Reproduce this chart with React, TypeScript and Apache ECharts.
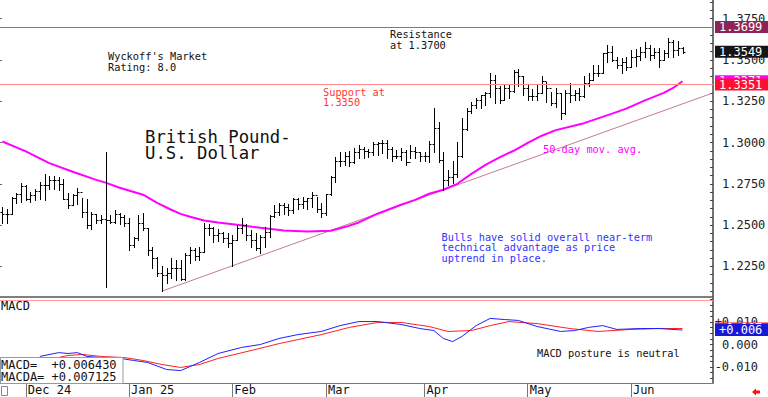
import React, { useEffect, useRef } from "react";
import * as echarts from "echarts";

// ---------- DATA ----------
const SLOT_COUNT = 152; // trading-day slots on the time axis (incl. empty right margin)
const SKIP_DATES = ["2025-01-01"];
const monthLabels: Record<string, string> = {
  "2024-12": "Dec 24",
  "2025-01": "Jan 25",
  "2025-02": "Feb",
  "2025-03": "Mar",
  "2025-04": "Apr",
  "2025-05": "May",
  "2025-06": "Jun",
};

const opens = [
  1.2580, 1.2565, 1.2570, 1.2665, 1.2690, 1.2735, 1.2660, 1.2680, 1.2705, 1.2740,
  1.2745, 1.2770, 1.2775, 1.2750, 1.2660, 1.2620, 1.2680, 1.2700, 1.2580, 1.2500,
  1.2570, 1.2530, 1.2535, 1.2530, 1.2520, 1.2570, 1.2550, 1.2510, 1.2380, 1.2420,
  1.2515, 1.2480, 1.2350, 1.2300, 1.2210, 1.2200, 1.2210, 1.2240, 1.2240, 1.2175,
  1.2320, 1.2350, 1.2310, 1.2340, 1.2480, 1.2480, 1.2440, 1.2450, 1.2420, 1.2390,
  1.2410, 1.2480, 1.2500, 1.2440, 1.2410, 1.2360, 1.2430, 1.2460, 1.2555, 1.2580,
  1.2620, 1.2610, 1.2590, 1.2660, 1.2630, 1.2645, 1.2665, 1.2680, 1.2600, 1.2575,
  1.2690, 1.2790, 1.2890, 1.2885, 1.2920, 1.2880, 1.2945, 1.2960, 1.2950, 1.2940,
  1.2990, 1.2995, 1.2995, 1.2960, 1.2920, 1.2920, 1.2945, 1.2880, 1.2950, 1.2940,
  1.2920, 1.2920, 1.2990, 1.3090, 1.2895, 1.2770, 1.2790, 1.2810, 1.2920, 1.3080,
  1.3190, 1.3230, 1.3255, 1.3285, 1.3300, 1.3380, 1.3330, 1.3260, 1.3330, 1.3310,
  1.3425, 1.3400, 1.3330, 1.3280, 1.3280, 1.3300, 1.3370, 1.3330, 1.3240, 1.3300,
  1.3180, 1.3300, 1.3290, 1.3300, 1.3280, 1.3360, 1.3380, 1.3420, 1.3420, 1.3540,
  1.3550, 1.3500, 1.3470, 1.3490, 1.3460, 1.3520, 1.3525, 1.3550, 1.3570, 1.3530,
  1.3550, 1.3500, 1.3540, 1.3610, 1.3560, 1.3570,
];
const highs = [
  1.2610, 1.2600, 1.2670, 1.2695, 1.2755, 1.2745, 1.2700, 1.2720, 1.2760, 1.2810,
  1.2800, 1.2795, 1.2790, 1.2780, 1.2695, 1.2690, 1.2725, 1.2665, 1.2655, 1.2580,
  1.2565, 1.2560, 1.2945, 1.2560, 1.2590, 1.2575, 1.2560, 1.2545, 1.2430, 1.2560,
  1.2575, 1.2485, 1.2370, 1.2305, 1.2250, 1.2240, 1.2300, 1.2290, 1.2290, 1.2330,
  1.2370, 1.2360, 1.2370, 1.2515, 1.2505, 1.2490, 1.2475, 1.2460, 1.2450, 1.2440,
  1.2500, 1.2545, 1.2505, 1.2470, 1.2450, 1.2440, 1.2490, 1.2560, 1.2620, 1.2635,
  1.2635, 1.2625, 1.2665, 1.2665, 1.2670, 1.2665, 1.2700, 1.2670, 1.2635, 1.2690,
  1.2795, 1.2915, 1.2945, 1.2945, 1.2950, 1.2968, 1.2985, 1.2970, 1.2960, 1.3000,
  1.3005, 1.3015, 1.3015, 1.2975, 1.2955, 1.2965, 1.2955, 1.2985, 1.2970, 1.2945,
  1.2945, 1.3010, 1.3207, 1.3125, 1.2940, 1.2835, 1.2885, 1.3000, 1.3150, 1.3210,
  1.3245, 1.3270, 1.3290, 1.3305, 1.3420, 1.3410, 1.3340, 1.3350, 1.3350, 1.3440,
  1.3445, 1.3400, 1.3350, 1.3325, 1.3350, 1.3400, 1.3365, 1.3305, 1.3330, 1.3300,
  1.3320, 1.3360, 1.3320, 1.3330, 1.3400, 1.3420, 1.3470, 1.3470, 1.3540, 1.3590,
  1.3585, 1.3520, 1.3510, 1.3520, 1.3560, 1.3565, 1.3580, 1.3610, 1.3590, 1.3570,
  1.3570, 1.3560, 1.3630, 1.3620, 1.3615, 1.3580,
];
const lows = [
  1.2515, 1.2515, 1.2565, 1.2635, 1.2640, 1.2650, 1.2640, 1.2650, 1.2655, 1.2650,
  1.2720, 1.2720, 1.2710, 1.2655, 1.2605, 1.2620, 1.2625, 1.2550, 1.2485, 1.2475,
  1.2515, 1.2515, 1.2125, 1.2510, 1.2510, 1.2505, 1.2495, 1.2350, 1.2370, 1.2410,
  1.2470, 1.2320, 1.2240, 1.2190, 1.2100, 1.2150, 1.2180, 1.2170, 1.2170, 1.2170,
  1.2270, 1.2290, 1.2290, 1.2340, 1.2440, 1.2400, 1.2405, 1.2395, 1.2370, 1.2250,
  1.2410, 1.2455, 1.2410, 1.2370, 1.2350, 1.2330, 1.2370, 1.2430, 1.2550, 1.2560,
  1.2570, 1.2560, 1.2575, 1.2595, 1.2605, 1.2595, 1.2610, 1.2580, 1.2550, 1.2560,
  1.2685, 1.2760, 1.2855, 1.2865, 1.2860, 1.2875, 1.2905, 1.2905, 1.2910, 1.2925,
  1.2925, 1.2935, 1.2905, 1.2885, 1.2905, 1.2895, 1.2865, 1.2905, 1.2905, 1.2885,
  1.2885, 1.2880, 1.2945, 1.2880, 1.2710, 1.2745, 1.2755, 1.2790, 1.2915, 1.3075,
  1.3180, 1.3210, 1.3210, 1.3230, 1.3275, 1.3240, 1.3240, 1.3260, 1.3270, 1.3305,
  1.3340, 1.3290, 1.3260, 1.3260, 1.3258, 1.3300, 1.3245, 1.3230, 1.3215, 1.3140,
  1.3175, 1.3245, 1.3260, 1.3260, 1.3275, 1.3340, 1.3380, 1.3400, 1.3420, 1.3485,
  1.3495, 1.3450, 1.3420, 1.3440, 1.3455, 1.3465, 1.3500, 1.3520, 1.3500, 1.3510,
  1.3460, 1.3500, 1.3520, 1.3520, 1.3530, 1.3540,
];
const closes = [
  1.2565, 1.2570, 1.2665, 1.2690, 1.2735, 1.2660, 1.2680, 1.2705, 1.2740, 1.2745,
  1.2770, 1.2775, 1.2750, 1.2660, 1.2620, 1.2680, 1.2700, 1.2580, 1.2500, 1.2570,
  1.2530, 1.2535, 1.2530, 1.2520, 1.2570, 1.2550, 1.2510, 1.2380, 1.2420, 1.2515,
  1.2480, 1.2350, 1.2300, 1.2210, 1.2200, 1.2210, 1.2240, 1.2240, 1.2175, 1.2320,
  1.2350, 1.2310, 1.2340, 1.2480, 1.2480, 1.2440, 1.2450, 1.2420, 1.2390, 1.2410,
  1.2480, 1.2500, 1.2440, 1.2410, 1.2360, 1.2430, 1.2460, 1.2555, 1.2580, 1.2620,
  1.2610, 1.2590, 1.2660, 1.2630, 1.2645, 1.2665, 1.2680, 1.2600, 1.2575, 1.2690,
  1.2790, 1.2890, 1.2885, 1.2920, 1.2880, 1.2945, 1.2960, 1.2950, 1.2940, 1.2990,
  1.2995, 1.2995, 1.2960, 1.2920, 1.2920, 1.2945, 1.2880, 1.2950, 1.2940, 1.2920,
  1.2920, 1.2990, 1.3090, 1.2895, 1.2770, 1.2790, 1.2810, 1.2920, 1.3080, 1.3190,
  1.3230, 1.3255, 1.3285, 1.3300, 1.3380, 1.3330, 1.3260, 1.3330, 1.3310, 1.3425,
  1.3400, 1.3330, 1.3280, 1.3280, 1.3300, 1.3370, 1.3330, 1.3240, 1.3300, 1.3180,
  1.3300, 1.3290, 1.3300, 1.3280, 1.3360, 1.3380, 1.3420, 1.3420, 1.3540, 1.3550,
  1.3500, 1.3470, 1.3490, 1.3460, 1.3520, 1.3525, 1.3550, 1.3570, 1.3530, 1.3550,
  1.3500, 1.3540, 1.3610, 1.3560, 1.3570, 1.3549,
];

// 50-day moving average, read at [bar index, value]
const ma50Points: [number, number][] = [
  [0, 1.3006], [5, 1.2946], [10, 1.2875], [15, 1.2823], [20, 1.2774], [22, 1.2757],
  [25, 1.2726], [30, 1.2684], [33, 1.2635], [36, 1.2593], [38, 1.2568], [40, 1.2551],
  [43, 1.2528], [46, 1.2516], [50, 1.2502], [55, 1.2484], [60, 1.2468], [65, 1.2462],
  [70, 1.2466], [73, 1.2488], [76, 1.2516], [80, 1.2569], [85, 1.2623], [88, 1.2653],
  [91, 1.2690], [94, 1.2714], [97, 1.2750], [100, 1.2810], [103, 1.2865], [106, 1.2910],
  [109, 1.2950], [112, 1.2998], [115, 1.3041], [118, 1.3075], [124, 1.3117], [130, 1.3175],
  [133, 1.3205], [137, 1.3255], [141, 1.3300], [143, 1.3330], [145, 1.3371],
];
const trendPoints: [number, number][] = [[34, 1.2100], [151, 1.3295]];
const resistanceLevel = 1.3699;
const supportLevel = 1.3351;

const macdPoints: [number, number][] = [
  [8, -0.0053], [12, -0.0036], [14, -0.0040], [16, -0.0036], [18, -0.0053], [21, -0.0058],
  [24, -0.0058], [28, -0.0071], [31, -0.0080], [35, -0.0111], [38, -0.0116], [42, -0.0080],
  [46, -0.0040], [51, -0.0013], [55, 0.0000], [59, 0.0027], [63, 0.0044], [68, 0.0058],
  [72, 0.0084], [76, 0.0102], [80, 0.0102], [85, 0.0089], [89, 0.0071], [92, 0.0062],
  [94, 0.0027], [96, 0.0013], [98, 0.0036], [101, 0.0084], [104, 0.0116], [107, 0.0111],
  [110, 0.0107], [114, 0.0080], [119, 0.0058], [122, 0.0062], [125, 0.0076], [128, 0.0084],
  [131, 0.0067], [136, 0.0071], [140, 0.0071], [145, 0.00643],
];
const macdaPoints: [number, number][] = [
  [11, -0.0062], [14, -0.0049], [17, -0.0044], [21, -0.0053], [26, -0.0058], [30, -0.0071],
  [34, -0.0089], [38, -0.0102], [42, -0.0089], [46, -0.0062], [53, -0.0027], [59, 0.0004],
  [68, 0.0044], [74, 0.0076], [80, 0.0098], [85, 0.0098], [91, 0.0080], [95, 0.0058],
  [100, 0.0062], [104, 0.0084], [108, 0.0102], [114, 0.0093], [121, 0.0071], [127, 0.0058],
  [134, 0.0067], [140, 0.0071], [145, 0.007125],
];
const macdNow = 0.00643;
const macdaNow = 0.007125;
const macdRefLevel = 0.0198;

const priceLabels = [1.225, 1.25, 1.275, 1.3, 1.325, 1.35, 1.375];
const macdLabels = [-0.01, 0, 0.01];

// ---------- helpers ----------
function buildCategories(): string[] {
  const out: string[] = [];
  const d = new Date(Date.UTC(2024, 10, 25));
  while (out.length < SLOT_COUNT) {
    const wd = d.getUTCDay();
    const s = d.toISOString().slice(0, 10);
    if (wd !== 0 && wd !== 6 && !SKIP_DATES.includes(s)) out.push(s);
    d.setUTCDate(d.getUTCDate() + 1);
  }
  return out;
}
const categories = buildCategories();
const isMonthStart = (i: number) =>
  i > 0 && categories[i].slice(0, 7) !== categories[i - 1].slice(0, 7);

const priceTicks: number[] = [];
for (let k = 242; k <= 277; k++) priceTicks.push(+(k * 0.005).toFixed(4));
const macdTicks: number[] = [];
for (let k = -6; k <= 8; k++) macdTicks.push(+(k * 0.0025).toFixed(4));

const MONO = '"DejaVu Sans Mono", monospace';
const PRICE_MAX = 1.3 + 142.5 / 1652;
const PRICE_MIN = 1.3 - 154.5 / 1652;
const MACD_MAX = (344.5 - 298) / 2250;
const MACD_MIN = (344.5 - 383) / 2250;

const ohlcData = closes.map((c, i) => [i, opens[i], c, lows[i], highs[i]]);

const sign = (v: number, d: number) => (v > 0 ? "+" : v < 0 ? "-" : "") + Math.abs(v).toFixed(d);

const HIDDEN_LINE = { color: "rgba(0,0,0,0)", width: 0 };

function boxLabel(text: string, bg: string, color = "#fff") {
  return {
    show: true,
    position: "end",
    distance: 2,
    formatter: text,
    color,
    backgroundColor: bg,
    padding: [1, 6, 0, 4],
    fontFamily: MONO,
    fontSize: 12,
    lineHeight: 11,
  };
}

function buildOption(): any {
  const txt = (x: number, y: number, text: string, fill: string, size: number, lh: number) => ({
    type: "text",
    x,
    y,
    z: 50,
    style: { text, fill, fontFamily: MONO, fontSize: size, lineHeight: lh, verticalAlign: "top", align: "left" },
  });
  return {
    animation: false,
    backgroundColor: "#ffffff",
    grid: [
      { left: 0, right: 55, top: 0, height: 297, outerBoundsMode: "none" },
      { left: 0, right: 55, top: 298, height: 85, outerBoundsMode: "none" },
    ],
    xAxis: [
      {
        type: "category",
        gridIndex: 0,
        data: categories,
        boundaryGap: true,
        axisLine: { show: true, onZero: false, lineStyle: { color: "#555", width: 1.5 } },
        axisTick: { show: false },
        axisLabel: { show: false },
        splitLine: { show: false },
      },
      {
        type: "category",
        gridIndex: 1,
        data: categories,
        boundaryGap: true,
        axisLine: { show: true, onZero: false, lineStyle: { color: "#777", width: 1 } },
        axisTick: {
          show: true,
          alignWithLabel: true,
          interval: (i: number) => isMonthStart(i),
          length: 14,
          lineStyle: { color: "#777" },
        },
        axisLabel: {
          interval: (i: number) => isMonthStart(i),
          formatter: (v: string) => monthLabels[v.slice(0, 7)] || "",
          align: "left",
          verticalAlign: "top",
          margin: 1,
          padding: [0, 0, 0, 2],
          fontFamily: MONO,
          fontSize: 12,
          lineHeight: 12,
          color: "#111",
        },
        splitLine: { show: false },
      },
    ],
    yAxis: [
      {
        type: "value",
        gridIndex: 0,
        position: "right",
        min: PRICE_MIN,
        max: PRICE_MAX,
        axisLine: { show: true, lineStyle: { color: "#444", width: 1.5 } },
        axisTick: { show: true, inside: true, length: 3, customValues: priceTicks, lineStyle: { color: "#444" } },
        axisLabel: {
          customValues: priceLabels,
          formatter: (v: number) => v.toFixed(4),
          margin: 9,
          fontFamily: MONO,
          fontSize: 12,
          color: "#222",
        },
        splitLine: { show: false },
      },
      {
        type: "value",
        gridIndex: 1,
        position: "right",
        min: MACD_MIN,
        max: MACD_MAX,
        axisLine: { show: true, lineStyle: { color: "#444", width: 1.5 } },
        axisTick: { show: true, inside: true, length: 3, customValues: macdTicks, lineStyle: { color: "#444" } },
        axisLabel: {
          customValues: macdLabels,
          formatter: (v: number) => sign(v, 3),
          align: "right",
          margin: 45,
          fontFamily: MONO,
          fontSize: 12,
          color: "#222",
        },
        splitLine: { show: false },
      },
      {
        type: "value",
        gridIndex: 0,
        position: "left",
        min: PRICE_MIN,
        max: PRICE_MAX,
        axisLine: { show: false },
        axisTick: { show: true, inside: true, length: 2, customValues: priceLabels, lineStyle: { color: "#666" } },
        axisLabel: { show: false },
        splitLine: { show: false },
      },
    ],
    series: [
      {
        name: "trend",
        type: "line",
        xAxisIndex: 0,
        yAxisIndex: 0,
        data: trendPoints,
        symbol: "none",
        z: 2,
        lineStyle: { color: "#c47c92", width: 1 },
        silent: true,
      },
      {
        name: "ma50",
        type: "line",
        xAxisIndex: 0,
        yAxisIndex: 0,
        data: ma50Points,
        symbol: "none",
        z: 3,
        lineStyle: { color: "#ff00ff", width: 2 },
        silent: true,
        markLine: {
          silent: true,
          symbol: "none",
          precision: 6,
          z: 5,
          data: [
            {
              yAxis: ma50Points[ma50Points.length - 1][1],
              lineStyle: HIDDEN_LINE,
              label: boxLabel(ma50Points[ma50Points.length - 1][1].toFixed(4), "#ff00ff"),
            },
          ],
        },
      },
      {
        name: "GBPUSD",
        type: "custom",
        xAxisIndex: 0,
        yAxisIndex: 0,
        data: ohlcData,
        encode: { x: 0, y: [1, 2, 3, 4] },
        clip: true,
        z: 4,
        silent: true,
        renderItem: (params: any, api: any) => {
          const i = api.value(0);
          const pH = api.coord([i, api.value(4)]);
          const pL = api.coord([i, api.value(3)]);
          const pO = api.coord([i, api.value(1)]);
          const pC = api.coord([i, api.value(2)]);
          const x = Math.round(pH[0]) + 0.5;
          const yo = Math.round(pO[1]) + 0.5;
          const yc = Math.round(pC[1]) + 0.5;
          const st = { stroke: "#000", lineWidth: 1 };
          return {
            type: "group",
            children: [
              { type: "line", shape: { x1: x, y1: Math.round(pH[1]), x2: x, y2: Math.round(pL[1]) + 1 }, style: st },
              { type: "line", shape: { x1: x - 2, y1: yo, x2: x, y2: yo }, style: st },
              { type: "line", shape: { x1: x, y1: yc, x2: x + 2, y2: yc }, style: st },
            ],
          };
        },
        markLine: {
          silent: true,
          symbol: "none",
          precision: 6,
          z: 6,
          data: [
            {
              yAxis: resistanceLevel,
              lineStyle: { color: "#b0607e", width: 1, type: "solid" },
              label: boxLabel(resistanceLevel.toFixed(4), "#8e2456"),
            },
            {
              yAxis: supportLevel,
              lineStyle: { color: "#ff8888", width: 1, type: "solid" },
              label: boxLabel(supportLevel.toFixed(4), "#ff1030"),
            },
            {
              yAxis: closes[closes.length - 1],
              lineStyle: HIDDEN_LINE,
              label: boxLabel(closes[closes.length - 1].toFixed(4), "#151515"),
            },
          ],
        },
      },
      {
        name: "MACDA",
        type: "line",
        xAxisIndex: 1,
        yAxisIndex: 1,
        data: macdaPoints,
        symbol: "none",
        z: 3,
        silent: true,
        lineStyle: { color: "#ff2020", width: 1 },
        markLine: {
          silent: true,
          symbol: "none",
          precision: 6,
          z: 5,
          data: [
            { yAxis: macdRefLevel, lineStyle: { color: "#ff9a9a", width: 1, type: "solid" }, label: { show: false } },
            { yAxis: macdaNow, lineStyle: HIDDEN_LINE, label: boxLabel(sign(macdaNow, 3), "#ff1020") },
          ],
        },
      },
      {
        name: "MACD",
        type: "line",
        xAxisIndex: 1,
        yAxisIndex: 1,
        data: macdPoints,
        symbol: "none",
        z: 4,
        silent: true,
        lineStyle: { color: "#2020ff", width: 1 },
        markLine: {
          silent: true,
          symbol: "none",
          precision: 6,
          z: 6,
          data: [{ yAxis: macdNow, lineStyle: HIDDEN_LINE, label: boxLabel(sign(macdNow, 3), "#1818d8") }],
        },
      },
    ],
    graphic: [
      txt(108, 50, "Wyckoff's Market\nRating: 8.0", "#111", 10.3, 11),
      txt(390, 28.5, "Resistance\nat 1.3700", "#111", 10.3, 10.7),
      txt(323, 86.3, "Support at\n1.3350", "#ff3838", 10.3, 10.7),
      txt(145, 128.5, "British Pound-\nU.S. Dollar", "#111", 17.3, 16),
      txt(543, 143, "50-day mov. avg.", "#ff00ff", 10.3, 11),
      txt(441.5, 231.3, "Bulls have solid overall near-term\ntechnical advantage as price\nuptrend in place.", "#3333ff", 10.3, 10.8),
      txt(537, 347, "MACD posture is neutral", "#111", 10.3, 11),
      txt(1, 300, "MACD", "#111", 12, 12),
      {
        type: "rect",
        z: 40,
        shape: { x: 0.5, y: 357.5, width: 122.5, height: 26 },
        style: { fill: "#fff", stroke: "#999", lineWidth: 1 },
      },
      txt(1, 359, "MACD=  " + sign(macdNow, 6) + "\nMACDA= " + sign(macdaNow, 6), "#111", 12, 12),
      {
        type: "rect",
        z: 40,
        shape: { x: 1.5, y: 386.5, width: 6, height: 9 },
        style: { fill: "none", stroke: "#888", lineWidth: 1 },
      },
      {
        type: "polygon",
        z: 40,
        shape: {
          points: [[752, 392], [756, 388.5], [756, 390.5], [760, 390.5], [760, 393.5], [756, 393.5], [756, 395.5]],
        },
        style: { fill: "#ff1010" },
      },
    ],
  };
}

export default function App() {
  const ref = useRef<HTMLDivElement>(null);
  useEffect(() => {
    if (!ref.current) return;
    const chart = echarts.init(ref.current, undefined, { renderer: "svg" });
    chart.setOption(buildOption());
    return () => chart.dispose();
  }, []);
  return (
    <div
      ref={ref}
      style={{ position: "fixed", left: 0, top: 0, width: 768, height: 397, background: "#fff" }}
    />
  );
}
